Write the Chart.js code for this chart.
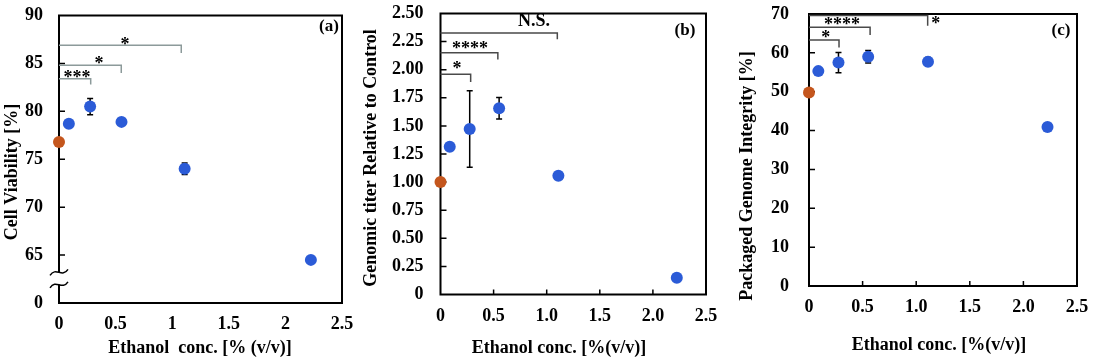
<!DOCTYPE html>
<html>
<head>
<meta charset="utf-8">
<script src="https://cdn.jsdelivr.net/npm/chart.js@4.4.0/dist/chart.umd.min.js"></script>
<style>
  html, body { margin: 0; padding: 0; background: #fff; }
  #wrap { position: relative; width: 1100px; height: 364px; overflow: hidden; }
  canvas { position: absolute; top: 0; }
</style>
</head>
<body>
<div id="wrap">
  <canvas id="chartA" width="355" height="364" style="left:0"></canvas>
  <canvas id="chartB" width="380" height="364" style="left:355px"></canvas>
  <canvas id="chartC" width="365" height="364" style="left:735px"></canvas>
</div>
<script>
// ethanol concentrations of the treated samples (control sits at 0)
const conc = [0.087, 0.275, 0.552, 1.11, 2.225];

// (a) cell viability [%]
const viabCtrl = 76.8;
const viab = [78.7, 80.5, 78.9, 74.0, 64.5];
const viabErr = [0.25, 0.85, 0.3, 0.6, 0.2];

// (b) genomic titer relative to control
const titerCtrl = 1.0;
const titer = [1.315, 1.472, 1.657, 1.057, 0.15];
const titerErr = [0.03, 0.34, 0.095, 0.02, 0.02];

// (c) packaged genome integrity [%]
const integCtrl = 49.8;
const integ = [55.3, 57.5, 59.0, 57.7, 40.9];
const integErr = [0.6, 2.6, 1.6, 1.1, 0.5];

// tick labels
const xLabelsA = ['0', '0.5', '1', '1.5', '2', '2.5'];
const xLabelsBC = ['0', '0.5', '1.0', '1.5', '2.0', '2.5'];
const yLabelsA = ['0', '65', '70', '75', '80', '85', '90'];
const yLabelsB = ['0', '0.25', '0.50', '0.75', '1.00', '1.25', '1.50', '1.75', '2.00', '2.25', '2.50'];
const yLabelsC = ['0', '10', '20', '30', '40', '50', '60', '70'];

// significance brackets: [right end x, bar level, drop level]
const sigBarsA = [[0.28, 83.4, 82.8], [0.55, 84.8, 84.0], [1.08, 86.9, 86.1]];
const sigBarsB = [[0.284, 1.959, 1.89], [0.54, 2.151, 2.09], [1.1, 2.327, 2.27]];
const sigBarsC = [[0.28, 63.3, 61.4], [0.57, 66.6, 64.6], [1.107, 69.6, 67.0]];
// significance marks: [text, x, y]
const sigTextA = [['***', 0.16, 83.8], ['*', 0.353, 85.17], ['*', 0.583, 87.15]];
const sigTextB = [['*', 0.155, 2.027], ['****', 0.278, 2.211], ['N.S.', 0.88, 2.429]];
const sigTextC = [['*', 0.156, 64.6], ['****', 0.308, 67.9], ['*', 1.182, 68.0]];

const FONT = "'Liberation Serif', 'Times New Roman', serif";
const BLUE = '#2b5bd7';
const ORANGE = '#c4561d';

const decor = {
  id: 'decor',
  beforeDatasetsDraw(chart, args, o) {
    const { ctx, chartArea: a } = chart;
    const xs = chart.scales.x, ys = chart.scales.y;
    ctx.save();
    // frame
    ctx.strokeStyle = '#000';
    ctx.lineWidth = 2;
    ctx.strokeRect(a.left, a.top, a.right - a.left, a.bottom - a.top);
    // inward tick marks
    ctx.lineWidth = 1.5;
    ctx.beginPath();
    ys.ticks.forEach(t => {
      if (t.value === ys.min || t.value === ys.max) return;
      const py = ys.getPixelForValue(t.value);
      ctx.moveTo(a.left, py); ctx.lineTo(a.left + 6, py);
    });
    if (o.xTicks) {
      xs.ticks.forEach(t => {
        if (t.value === xs.min || t.value === xs.max) return;
        const px = xs.getPixelForValue(t.value);
        ctx.moveTo(px, a.bottom); ctx.lineTo(px, a.bottom - 5);
      });
    }
    ctx.stroke();
    // axis break
    if (o.axisBreak) {
      const y1 = ys.getPixelForValue(o.axisBreak[0]);
      const y2 = ys.getPixelForValue(o.axisBreak[1]);
      ctx.fillStyle = '#fff';
      ctx.fillRect(a.left - 3, y1, 6, y2 - y1);
      ctx.beginPath();
      [y1, y2].forEach(y => {
        ctx.moveTo(a.left - 9, y + 3);
        ctx.bezierCurveTo(a.left - 3, y - 6, a.left + 3, y + 6, a.left + 9, y - 3);
      });
      ctx.stroke();
    }
    // error bars
    ctx.strokeStyle = '#000';
    ctx.lineWidth = 1.5;
    chart.data.datasets.forEach((ds, di) => {
      const meta = chart.getDatasetMeta(di);
      ds.data.forEach((p, i) => {
        const e = ds.errorBars[i];
        if (!e) return;
        const px = meta.data[i].x;
        const top = ys.getPixelForValue(p.y + e), bot = ys.getPixelForValue(p.y - e);
        ctx.beginPath();
        ctx.moveTo(px, top); ctx.lineTo(px, bot);
        ctx.moveTo(px - 3, top); ctx.lineTo(px + 3, top);
        ctx.moveTo(px - 3, bot); ctx.lineTo(px + 3, bot);
        ctx.stroke();
      });
    });
    ctx.restore();
  },
  afterDraw(chart, args, o) {
    const { ctx } = chart;
    const xs = chart.scales.x, ys = chart.scales.y;
    ctx.save();
    // brackets
    ctx.strokeStyle = o.bracketColor;
    ctx.lineWidth = 1.5;
    o.bars.forEach(([xr, lvl, drop]) => {
      ctx.beginPath();
      ctx.moveTo(xs.getPixelForValue(0), ys.getPixelForValue(lvl));
      ctx.lineTo(xs.getPixelForValue(xr), ys.getPixelForValue(lvl));
      ctx.lineTo(xs.getPixelForValue(xr), ys.getPixelForValue(drop));
      ctx.stroke();
    });
    ctx.fillStyle = '#000';
    ctx.textAlign = 'center';
    ctx.textBaseline = 'middle';
    o.marks.forEach(([txt, x, y]) => {
      const star = txt.indexOf('*') >= 0;
      ctx.font = 'bold 18px ' + FONT;
      ctx.fillText(txt, xs.getPixelForValue(x), ys.getPixelForValue(y) + (star ? 3 : 0));
    });
    // panel label
    ctx.font = 'bold 17px ' + FONT;
    ctx.fillText(o.label[0], o.label[1], o.label[2]);
    // axis titles
    ctx.font = 'bold 18px ' + FONT;
    ctx.fillText(o.xTitle[0], o.xTitle[1], o.xTitle[2]);
    ctx.translate(o.yTitle[1], o.yTitle[2]);
    ctx.rotate(-Math.PI / 2);
    ctx.fillText(o.yTitle[0], 0, 0);
    ctx.restore();
  }
};

function noLabelMargins(s) {
  s.paddingTop = 0; s.paddingBottom = 0; s.paddingLeft = 0; s.paddingRight = 0;
}

function panel(id, p) {
  const tickFont = { family: FONT, size: 18, weight: 'bold' };
  return new Chart(document.getElementById(id), {
    type: 'scatter',
    data: {
      datasets: [
        { data: [{ x: 0, y: p.ctrl }], backgroundColor: ORANGE, errorBars: [0], clip: false },
        { data: conc.map((x, i) => ({ x, y: p.vals[i] })), backgroundColor: BLUE, errorBars: p.errs, clip: false }
      ]
    },
    options: {
      responsive: false,
      animation: false,
      layout: { padding: p.pad },
      elements: { point: { radius: 6, hoverRadius: 6, borderWidth: 0 } },
      plugins: { legend: { display: false }, tooltip: { enabled: false }, decor: p.decor },
      scales: {
        x: {
          type: 'linear', min: 0, max: 2.5,
          grid: { display: false, drawTicks: false },
          border: { display: false },
          ticks: { stepSize: 0.5, padding: 11, color: '#000', font: tickFont, maxRotation: 0, autoSkip: false,
                   callback: (v, i) => p.xLabels[i] },
          afterFit: s => { s.height = p.xH; noLabelMargins(s); }
        },
        y: {
          type: 'linear', min: p.yMin, max: p.yMax,
          grid: { display: false, drawTicks: false },
          border: { display: false },
          ticks: { stepSize: p.yStep, padding: p.yPad, color: '#000', font: tickFont, autoSkip: false,
                   callback: (v, i) => p.yLabels[i] },
          afterFit: s => { s.width = p.yW; noLabelMargins(s); }
        }
      }
    },
    plugins: [decor]
  });
}

panel('chartA', {
  ctrl: viabCtrl, vals: viab, errs: viabErr,
  xLabels: xLabelsA, yLabels: yLabelsA, yMin: 60, yMax: 90, yStep: 5, yPad: 16,
  pad: { top: 15.5, right: 13, left: 0, bottom: 0 }, yW: 59, xH: 61,
  decor: {
    xTicks: false, axisBreak: [63.2, 61.9], bracketColor: '#8c9a9a',
    bars: sigBarsA, marks: sigTextA,
    label: ['(a)', 329, 27],
    xTitle: ['Ethanol  conc. [% (v/v)]', 200, 348],
    yTitle: ['Cell Viability [%]', 12, 172]
  }
});

panel('chartB', {
  ctrl: titerCtrl, vals: titer, errs: titerErr,
  xLabels: xLabelsBC, yLabels: yLabelsB, yMin: 0, yMax: 2.5, yStep: 0.25, yPad: 17,
  pad: { top: 13.5, right: 29, left: 0, bottom: 0 }, yW: 85.5, xH: 69.5,
  decor: {
    xTicks: true, axisBreak: null, bracketColor: '#4a4a4a',
    bars: sigBarsB, marks: sigTextB,
    label: ['(b)', 330, 31],
    xTitle: ['Ethanol conc. [%(v/v)]', 204, 348],
    yTitle: ['Genomic titer Relative to Control', 16, 158]
  }
});

panel('chartC', {
  ctrl: integCtrl, vals: integ, errs: integErr,
  xLabels: xLabelsBC, yLabels: yLabelsC, yMin: 0, yMax: 70, yStep: 10, yPad: 20,
  pad: { top: 14, right: 23, left: 0, bottom: 0 }, yW: 74, xH: 78,
  decor: {
    xTicks: true, axisBreak: null, bracketColor: '#4a4a4a',
    bars: sigBarsC, marks: sigTextC,
    label: ['(c)', 326, 31],
    xTitle: ['Ethanol conc. [%(v/v)]', 204, 345],
    yTitle: ['Packaged Genome Integrity [%]', 12, 176]
  }
});
</script>
</body>
</html>
